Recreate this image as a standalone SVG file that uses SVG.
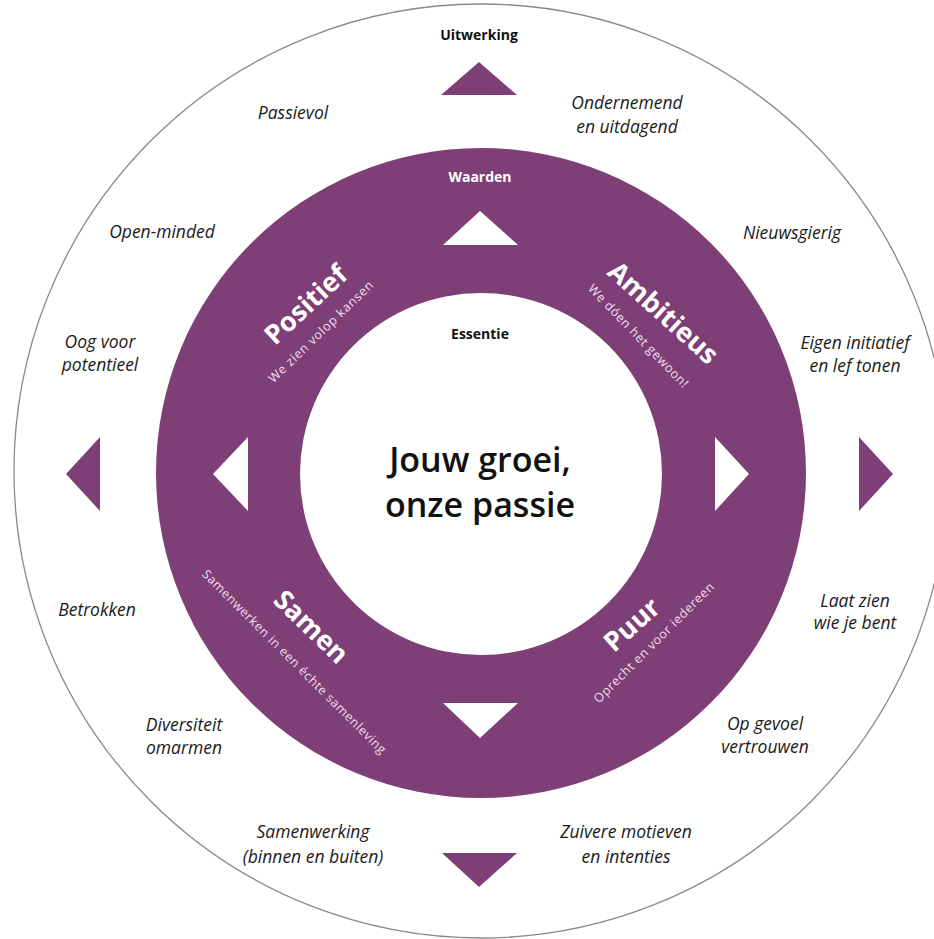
<svg xmlns="http://www.w3.org/2000/svg" width="934" height="939" viewBox="0 0 934 939">
<style>
.outer{font-family:"Open Sans","Liberation Sans",sans-serif;font-style:italic;font-size:17.5px;fill:#1a1a1a;text-anchor:middle}
.hdr{font-family:"Open Sans","Liberation Sans",sans-serif;font-weight:bold;font-size:14px;text-anchor:middle}
.val{font-family:"Open Sans","Liberation Sans",sans-serif;font-weight:bold;font-size:27px;fill:#fff;text-anchor:middle}
.sub{font-family:"Open Sans","Liberation Sans",sans-serif;font-size:12.5px;fill:#f3dff0;text-anchor:middle}
.core{font-family:"Open Sans","Liberation Sans",sans-serif;font-weight:600;font-size:34px;fill:#111;text-anchor:middle}
.pt{fill:#7e3f77}
.wt{fill:#fff}
</style>
<rect width="934" height="939" fill="#fff"/>
<g id="rings">
<circle cx="481" cy="471" r="467" fill="#fff" stroke="#8a8a8a" stroke-width="1.3"/>
<circle cx="481" cy="473" r="325" fill="#7e3f77"/>
<circle cx="481" cy="474" r="181" fill="#fff"/>
</g>
<g id="connectors">
<polygon class="pt" points="479,62 517,95 441,95"/>
<polygon class="pt" points="442,853 517,853 479,887"/>
<polygon class="pt" points="66,474 100,437 100,511"/>
<polygon class="pt" points="893,474 859,437 859,511"/>
<polygon class="wt" points="480,211 518,245 443,245"/>
<polygon class="wt" points="443,703 518,703 480,738"/>
<polygon class="wt" points="213,474 248,437 248,511"/>
<polygon class="wt" points="749,474 715,437 715,511"/>
</g>
<g id="uitwerking"><text class="hdr" x="479" y="40" fill="#111" font-size="14.5">Uitwerking</text></g>
<g id="waarden"><text class="hdr" x="480" y="182" fill="#fff" font-size="13.5">Waarden</text></g>
<g id="essentie"><text class="hdr" x="480" y="339" fill="#111">Essentie</text></g>
<g id="kern"><text class="core" x="480" y="472">Jouw groei,</text><text class="core" x="480" y="517">onze passie</text></g>
<g id="positief">
<text class="val" transform="translate(306,305) rotate(-43)" y="9">Positief</text>
<text class="sub" transform="translate(321,332) rotate(-44)" y="4" textLength="140" lengthAdjust="spacing">We zien volop kansen</text>
</g>
<g id="ambitieus">
<text class="val" transform="translate(663,313) rotate(42)" y="9">Ambitieus</text>
<text class="sub" transform="translate(638,336) rotate(46)" y="4" textLength="138" lengthAdjust="spacing">We dóen het gewoon!</text>
</g>
<g id="samen">
<text class="val" transform="translate(311,627) rotate(44)" y="9">Samen</text>
<text class="sub" transform="translate(294,662) rotate(45)" y="4" textLength="254" lengthAdjust="spacing">Samenwerken in een échte samenleving</text>
</g>
<g id="puur">
<text class="val" transform="translate(632,625) rotate(-42)" y="9">Puur</text>
<text class="sub" transform="translate(654,643) rotate(-45)" y="4" textLength="164" lengthAdjust="spacing">Oprecht en voor iedereen</text>
</g>
<g id="passievol"><text class="outer" x="293" y="119">Passievol</text></g>
<g id="ondernemend"><text class="outer" x="627" y="109">Ondernemend</text><text class="outer" x="627" y="133">en uitdagend</text></g>
<g id="openminded"><text class="outer" x="162" y="238">Open-minded</text></g>
<g id="nieuwsgierig"><text class="outer" x="792" y="239">Nieuwsgierig</text></g>
<g id="oog"><text class="outer" x="100" y="348">Oog voor</text><text class="outer" x="100" y="371">potentieel</text></g>
<g id="eigen"><text class="outer" x="855" y="349">Eigen initiatief</text><text class="outer" x="855" y="372">en lef tonen</text></g>
<g id="betrokken"><text class="outer" x="97" y="616">Betrokken</text></g>
<g id="laatzien"><text class="outer" x="855" y="607">Laat zien</text><text class="outer" x="855" y="629">wie je bent</text></g>
<g id="diversiteit"><text class="outer" x="184" y="731">Diversiteit</text><text class="outer" x="184" y="754">omarmen</text></g>
<g id="opgevoel"><text class="outer" x="765" y="730">Op gevoel</text><text class="outer" x="765" y="753">vertrouwen</text></g>
<g id="samenwerking"><text class="outer" x="313" y="838">Samenwerking</text><text class="outer" x="313" y="863">(binnen en buiten)</text></g>
<g id="zuivere"><text class="outer" x="626" y="838">Zuivere motieven</text><text class="outer" x="626" y="863">en intenties</text></g>
</svg>
